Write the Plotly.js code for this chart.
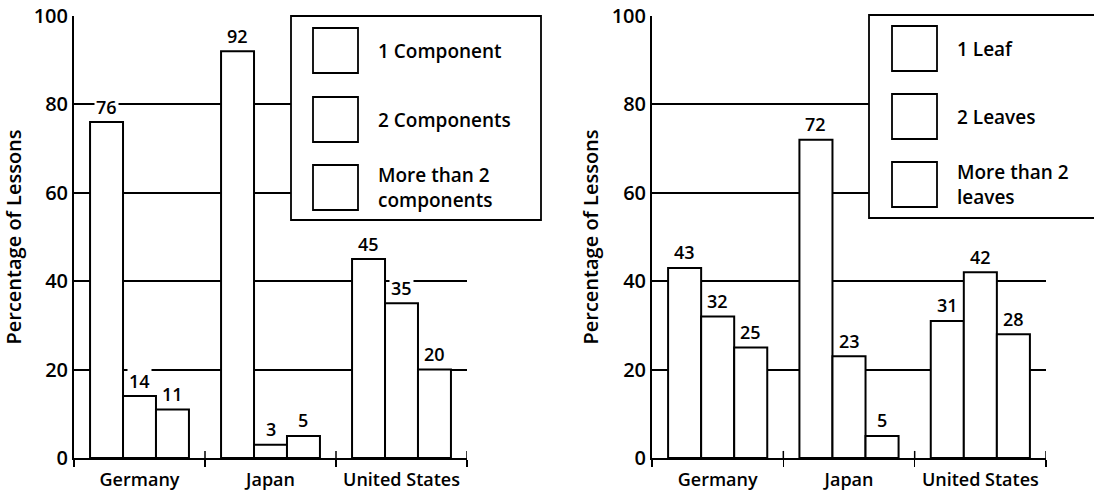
<!DOCTYPE html>
<html>
<head>
<meta charset="utf-8">
<script src="https://cdn.plot.ly/plotly-3.0.1.min.js"></script>
<style>
  html, body { margin: 0; padding: 0; background: #fff; }
  #chart { width: 1094px; height: 492px; }
</style>
</head>
<body>
<div id="chart"></div>
<script>
// ---- data ----
const categories = ["Germany", "Japan", "United States"];
const componentNames = ["1 Component", "2 Components", "More than 2<br>components"];
const oneComponent = [76, 92, 45];
const twoComponents = [14, 3, 35];
const moreComponents = [11, 5, 20];
const leafNames = ["1 Leaf", "2 Leaves", "More than 2<br>leaves"];
const oneLeaf = [43, 72, 31];
const twoLeaves = [32, 23, 42];
const moreLeaves = [25, 5, 28];
const yTicks = [0, 20, 40, 60, 80, 100];
const yTitle = "Percentage of Lessons";

// ---- style ----
const W = 1094, H = 492;
const FONT = "Open Sans";
const WEIGHT = 600;
const BARGAP = 0.245;
const px = v => v / W;
const py = v => 1 - v / H;

const leftSeries = [oneComponent, twoComponents, moreComponents];
const rightSeries = [oneLeaf, twoLeaves, moreLeaves];

const traces = [];
function addBars(series, names, xa, ya) {
  series.forEach((vals, j) => {
    traces.push({
      type: "bar", x: categories, y: vals, name: names[j],
      xaxis: xa, yaxis: ya, showlegend: false,
      marker: { color: "#ffffff", line: { color: "#000", width: 2 } },
      hoverinfo: "x+y"
    });
  });
}
addBars(leftSeries, componentNames, "x", "y");
addBars(rightSeries, leafNames, "x2", "y2");

const annotations = [];
const shapes = [];
const barW = (1 - BARGAP) / 3;
function addValueLabels(series, xref, yref) {
  series.forEach((vals, j) => {
    vals.forEach((v, i) => {
      annotations.push({
        xref: xref, yref: yref, x: i + (j - 1) * barW, y: v,
        text: String(v), showarrow: false, xanchor: "center", yanchor: "bottom",
        yshift: 1.5, bgcolor: "#ffffff", borderpad: 1,
        font: { family: FONT, size: 18, weight: WEIGHT, color: "#000" }
      });
    });
  });
}
addValueLabels(leftSeries, "x", "y");
addValueLabels(rightSeries, "x2", "y2");

// crossing part of boundary ticks (above the axis)
function addInnerTicks(xref, yref) {
  [0.5, 1.5, 2.5].forEach(b => {
    shapes.push({ type: "line", xref: xref, yref: yref, x0: b, x1: b, y0: 0, y1: 1.6,
      line: { color: "#000", width: 1.5 } });
  });
}
addInnerTicks("x", "y");
addInnerTicks("x2", "y2");

// custom legends
function addLegend(box, sqX, sqYs, sqSize, textX, names) {
  shapes.push({ type: "rect", xref: "paper", yref: "paper",
    x0: px(box[0]), x1: px(box[1]), y0: py(box[3]), y1: py(box[2]),
    fillcolor: "#ffffff", line: { color: "#000", width: 1.8 }, layer: "above" });
  sqYs.forEach((cy, k) => {
    shapes.push({ type: "rect", xref: "paper", yref: "paper",
      x0: px(sqX), x1: px(sqX + sqSize), y0: py(cy + sqSize / 2), y1: py(cy - sqSize / 2),
      fillcolor: "#ffffff", line: { color: "#000", width: 1.8 }, layer: "above" });
    annotations.push({ xref: "paper", yref: "paper", x: px(textX), y: py(cy),
      text: names[k], showarrow: false, xanchor: "left", yanchor: "middle", align: "left",
      font: { family: FONT, size: 19, weight: WEIGHT, color: "#000" } });
  });
}
addLegend([291, 541, 16, 220], 313, [50.5, 119.5, 187.5], 45, 376, componentNames);
addLegend([869, 1096, 15, 218], 892, [48.5, 116.5, 184.5], 45, 955, leafNames);

const yDomain = [py(458), py(16)];
function xAxis(domain, anchor) {
  return {
    domain: domain, anchor: anchor, type: "category", range: [-0.5, 2.5],
    showline: true, linecolor: "#000", linewidth: 2,
    ticks: "outside", tickson: "boundaries", ticklen: 7, tickwidth: 1.5, tickcolor: "#000",
    tickangle: 0, ticklabelstandoff: 4,
    showgrid: false, zeroline: false, fixedrange: true,
    tickfont: { family: FONT, size: 18, weight: WEIGHT, color: "#000" }
  };
}
function yAxis(anchor) {
  return {
    domain: yDomain, anchor: anchor, range: [0, 100], tickvals: yTicks,
    showline: true, linecolor: "#000", linewidth: 2, ticks: "",
    showgrid: true, gridcolor: "#000", gridwidth: 2, zeroline: false, fixedrange: true,
    tickfont: { family: FONT, size: 20, weight: WEIGHT, color: "#000" },
    title: { text: yTitle, font: { family: FONT, size: 20, weight: WEIGHT, color: "#000" }, standoff: 8 }
  };
}

const layout = {
  width: W, height: H,
  margin: { l: 0, r: 0, t: 0, b: 0 },
  paper_bgcolor: "#fff", plot_bgcolor: "#fff",
  barmode: "group", bargap: BARGAP, bargroupgap: 0,
  showlegend: false,
  xaxis: xAxis([px(74), px(467)], "y"),
  yaxis: yAxis("x"),
  xaxis2: xAxis([px(652), px(1046)], "y2"),
  yaxis2: yAxis("x2"),
  annotations: annotations,
  shapes: shapes
};

Plotly.newPlot("chart", traces, layout, { displayModeBar: false, staticPlot: true });
</script>
</body>
</html>
